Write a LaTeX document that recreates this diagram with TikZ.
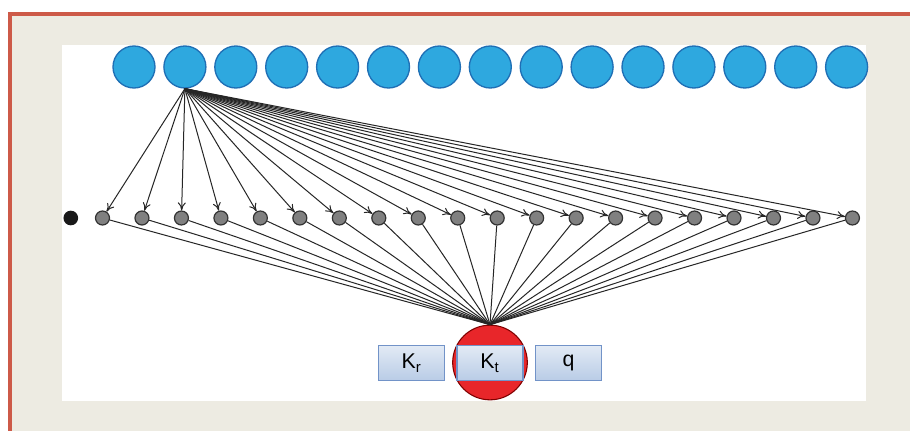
\documentclass[tikz,border=0pt]{standalone}
\usepackage{fontspec}
\setmainfont{Liberation Sans}
\usetikzlibrary{arrows.meta,calc,positioning}
\definecolor{frame red}{HTML}{CD5A48}
\definecolor{frame bg}{HTML}{EDEBE2}
\definecolor{unit blue}{HTML}{2EA8DF}
\definecolor{unit edge}{HTML}{1F6FB5}
\definecolor{target red}{HTML}{E8262A}
\definecolor{param top}{HTML}{E2EAF5}
\definecolor{param bottom}{HTML}{B9CCE6}
\definecolor{param edge}{HTML}{7293C8}
\tikzset{
    top unit/.style={
        circle,
        draw=unit edge,
        line width=1pt,
        fill=unit blue,
        minimum size=31.5pt,
        inner sep=0pt
    },
    mid unit/.style={
        circle,
        draw=black!80,
        line width=0.9pt,
        fill=black!50,
        minimum size=10.5pt,
        inner sep=0pt
    },
    bias unit/.style={
        circle,
        fill=black!90,
        minimum size=11pt,
        inner sep=0pt
    },
    target unit/.style={
        circle,
        draw=red!50!black,
        line width=0.8pt,
        fill=target red,
        minimum size=56pt,
        inner sep=0pt
    },
    param box/.style={
        draw=param edge,
        line width=0.9pt,
        top color=param top,
        bottom color=param bottom,
        minimum width=49.5pt,
        minimum height=26pt,
        inner sep=0pt,
        font=\fontsize{16}{18}\selectfont
    },
    fan arrow/.style={-{To[length=6pt,width=6pt]}, line width=0.75pt, black!85},
    fan line/.style={line width=0.75pt, black!85}
}

\begin{document}
\begin{tikzpicture}[x=0.75pt,y=-0.75pt]
    \useasboundingbox (0,0) rectangle (910,431);
    % frame and panel
    \fill[frame bg] (8,12) rectangle (910,431);
    \draw[frame red, line width=3pt] (10,431) -- (10,14) -- (910,14);
    \fill[white] (62,45) rectangle (866,401);

    % units
    \foreach \i in {1,...,15}
        \node[top unit] (b\i) at ({134+(\i-1)*50.9},67) {};
    \node[bias unit] (bias) at (70.8,218) {};
    \foreach \i in {1,...,20}
        \node[mid unit] (g\i) at ({102.5+(\i-1)*39.47},218) {};
    \node[target unit] (target) at (490,362.5) {};

    \node[param box] (kr) at (411.5,363) {K\textsubscript{r}};
    \node[param box] (kt) at (490,363) {K\textsubscript{t}};
    \node[param box] (q) at (568.5,363) {q};

    % connections
    \foreach \i in {1,...,20} {
        \draw[fan arrow] (b2.south) -- (g\i);
        \draw[fan line] (g\i) -- (target.north);
    }
\end{tikzpicture}
\end{document}
